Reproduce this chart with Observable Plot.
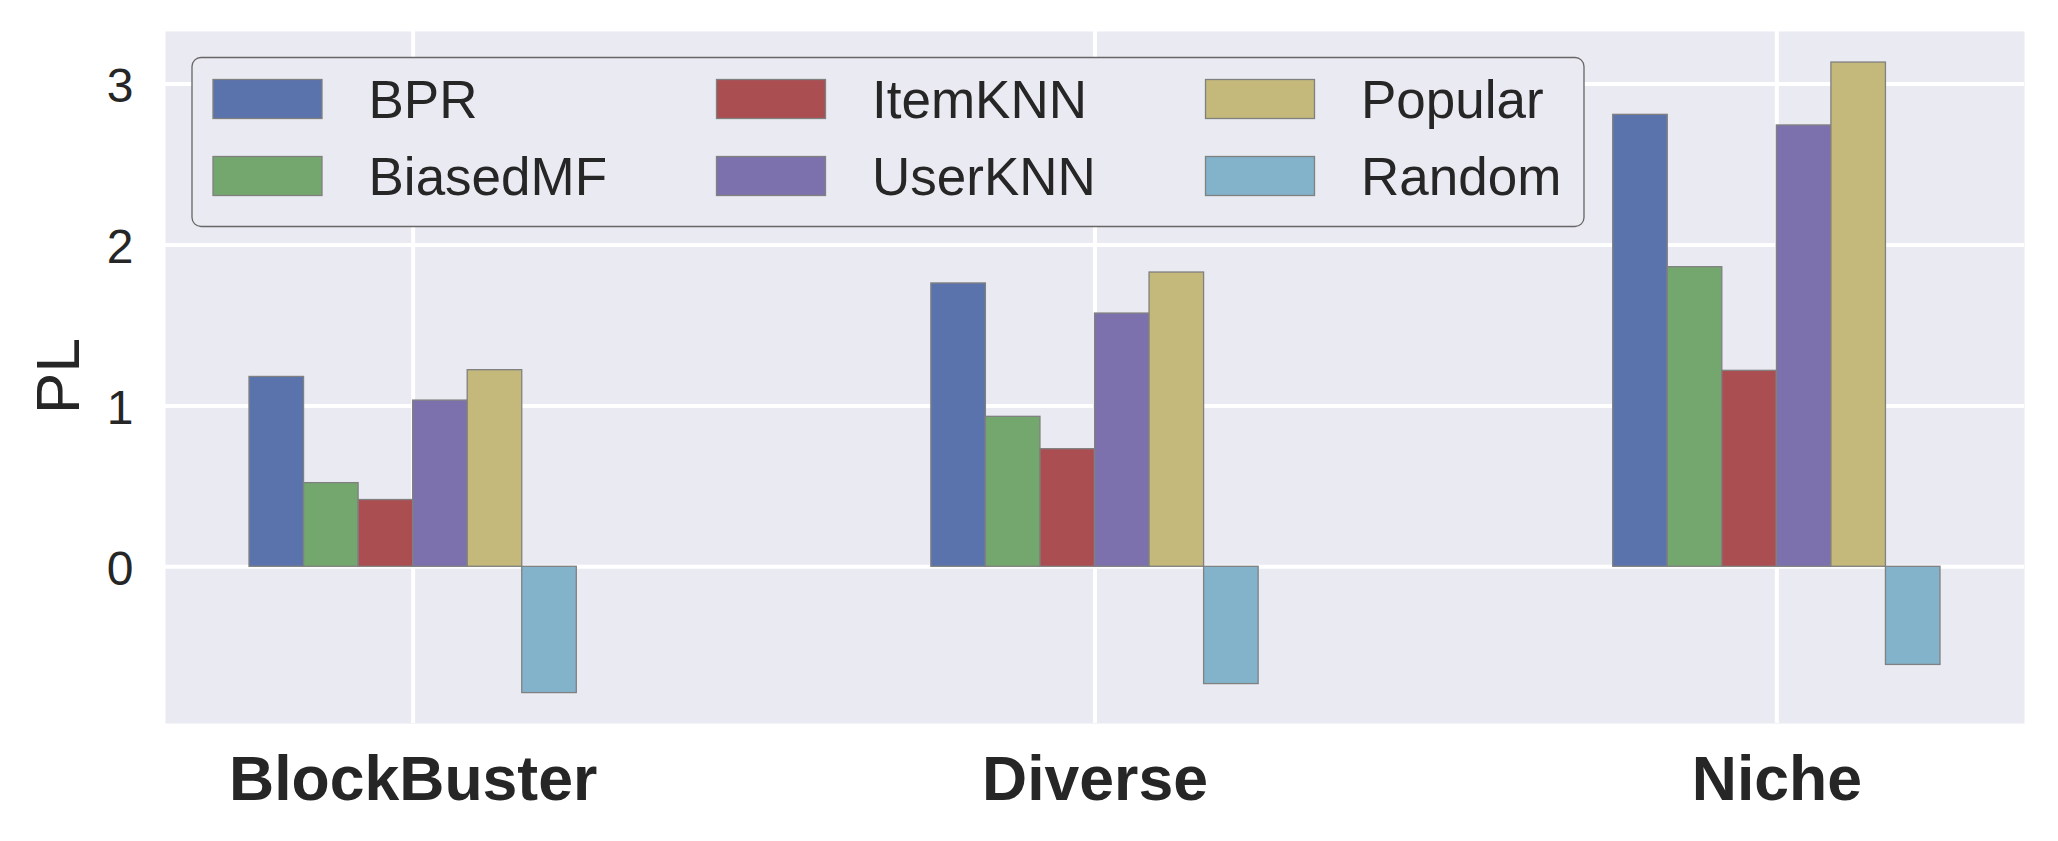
<!DOCTYPE html>
<html><head><meta charset="utf-8">
<script src="https://cdn.jsdelivr.net/npm/d3@7"></script>
<script src="https://cdn.jsdelivr.net/npm/@observablehq/plot@0.6"></script>
<style>body{margin:0;background:#fff}</style>
</head><body><div id="chart"></div>
<script>
const categories = ["BlockBuster", "Diverse", "Niche"];
const series = ["BPR", "BiasedMF", "ItemKNN", "UserKNN", "Popular", "Random"];
const colors = ["#5A73AD", "#73A76D", "#AB4E52", "#7D71AD", "#C4B87A", "#82B3CA"];
const BPR = [1.18, 1.761, 2.809];
const BiasedMF = [0.52, 0.932, 1.862];
const ItemKNN = [0.415, 0.731, 1.218];
const UserKNN = [1.033, 1.574, 2.743];
const Popular = [1.222, 1.829, 3.134];
const Random = [-0.785, -0.729, -0.61];
const yTicks = [0, 1, 2, 3];
const yLabel = "PL";

const seriesValues = [BPR, BiasedMF, ItemKNN, UserKNN, Popular, Random];
const rows = series.flatMap((s, si) => seriesValues[si].map((v, ci) => ({category: categories[ci], ci, series: s, si, value: v})));
const barW = 0.08;
const groupW = barW * series.length;
const catIdx = categories.map((c, i) => i);

const font = "'Liberation Sans', Arial, Helvetica, sans-serif";
const chart = Plot.plot({
  width: 2058, height: 841,
  marginLeft: 165, marginRight: 34, marginTop: 31, marginBottom: 118,
  style: {fontFamily: font, color: "#262626", background: "white", overflow: "visible"},
  x: {domain: [-0.3632, 2.3632], axis: null},
  y: {domain: [-0.974, 3.327], axis: null},
  color: {domain: series, range: colors},
  marks: [
    Plot.frame({fill: "#EAEAF2", stroke: null}),
    Plot.gridX(catIdx, {stroke: "white", strokeOpacity: 1, strokeWidth: 4}),
    Plot.gridY(yTicks, {stroke: "white", strokeOpacity: 1, strokeWidth: 4}),
    Plot.rect(rows, {
      x1: d => d.ci - groupW / 2 + d.si * barW,
      x2: d => d.ci - groupW / 2 + (d.si + 1) * barW,
      y1: 0, y2: "value",
      fill: "series", stroke: "#808080", strokeWidth: 1.3
    }),
    Plot.axisY(yTicks, {tickSize: 0, tickPadding: 32, fontSize: 48, label: null, dy: 3, tickFormat: d3.format("d")}),
    Plot.axisX(catIdx, {tickSize: 0, tickPadding: 32, fontSize: 62.5, fontWeight: "bold", tickFormat: i => categories[i], label: null})
  ]
});
document.getElementById("chart").appendChild(chart);

const svg = d3.select(chart);
// y-axis title
svg.append("text")
  .attr("transform", "translate(79,376) rotate(-90)")
  .attr("text-anchor", "middle")
  .attr("font-family", font).attr("font-size", 62).attr("fill", "#262626")
  .text(yLabel);

// legend (3 columns, column-major like matplotlib)
const color = chart.scale("color");
const lg = svg.append("g").attr("text-anchor", "start");
lg.append("rect").attr("x", 192).attr("y", 57.5).attr("width", 1392).attr("height", 169)
  .attr("rx", 9).attr("fill", "#EAEAF2").attr("stroke", "#666").attr("stroke-width", 1.3);
const colX = [213, 716.5, 1205.5];
const rowY = [79.5, 156.5];
series.forEach((s, i) => {
  const c = Math.floor(i / 2), r = i % 2;
  lg.append("rect").attr("x", colX[c]).attr("y", rowY[r]).attr("width", 109).attr("height", 39)
    .attr("fill", color.apply(s)).attr("stroke", "#808080").attr("stroke-width", 1.3);
  lg.append("text").attr("x", colX[c] + 155.5).attr("y", rowY[r] + 38.5)
    .attr("text-anchor", "start")
    .attr("font-family", font).attr("font-size", 53).attr("fill", "#262626").text(s);
});
</script>
</body></html>
